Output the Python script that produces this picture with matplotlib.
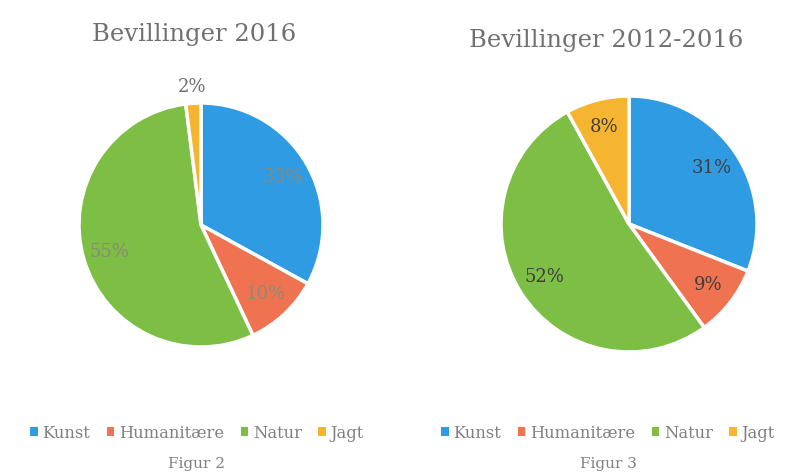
import matplotlib
matplotlib.use("Agg")
import matplotlib.pyplot as plt
from matplotlib.patches import Patch
import numpy as np

# Data
categories = ['Kunst', 'Humanitære', 'Natur', 'Jagt']
values_2016 = [33, 10, 55, 2]
values_2012_2016 = [31, 9, 52, 8]
titles = ['Bevillinger 2016', 'Bevillinger 2012-2016']
captions = ['Figur 2', 'Figur 3']

colors = ['#2f9be3', '#ef7350', '#7cbf44', '#f6b530']
title_color = '#707070'

plt.rcParams['font.family'] = ['DejaVu Serif']

W, H = 791, 475
fig = plt.figure(figsize=(W / 100, H / 100), dpi=100)
fig.patch.set_facecolor('white')

# pixel layout: (center x, center y, radius)
pies = [(201, 225, 122), (629, 224, 128)]
label_colors = ['#8a8a78', '#3e3e3e']
legend_cx = [197, 608]


def draw_pie(vals, cx, cy, r, lab_col):
    ax = fig.add_axes([(cx - r) / W, (H - cy - r) / H, 2 * r / W, 2 * r / H])
    wedges, _ = ax.pie(vals, colors=colors, startangle=90, counterclock=False,
                       radius=1.0,
                       wedgeprops=dict(edgecolor='white', linewidth=2.5))
    ax.set_xlim(-1, 1)
    ax.set_ylim(-1, 1)
    ax.set_aspect('equal')
    ax.axis('off')
    for w, v in zip(wedges, vals):
        ang = np.deg2rad((w.theta1 + w.theta2) / 2)
        d = 0.78 if v >= 5 else 1.13
        col = lab_col if v >= 5 else title_color
        ax.text(d * np.cos(ang), d * np.sin(ang), f'{v}%', ha='center', va='center',
                fontsize=13, color=col)
    return ax


for vals, (cx, cy, r), lc in zip([values_2016, values_2012_2016], pies, label_colors):
    draw_pie(vals, cx, cy, r, lc)

fig.text(194 / W, 1 - 35 / H, titles[0], ha='center', va='center', fontsize=17.5, color=title_color)
fig.text(606 / W, 1 - 40 / H, titles[1], ha='center', va='center', fontsize=17.5, color=title_color)

handles = [Patch(facecolor=c, edgecolor='none') for c in colors]
for lx, cap in zip(legend_cx, captions):
    fig.legend(handles, categories, loc='center', bbox_to_anchor=(lx / W, 1 - 433 / H),
               ncol=4, frameon=False, fontsize=11.8, handlelength=0.45, handleheight=0.45,
               handletextpad=0.3, columnspacing=1.0, labelcolor='#808080')
    fig.text(lx / W, 1 - 464 / H, cap, ha='center', va='center', fontsize=11, color='#808080')

fig.savefig('out.png', dpi=100, facecolor='white')
